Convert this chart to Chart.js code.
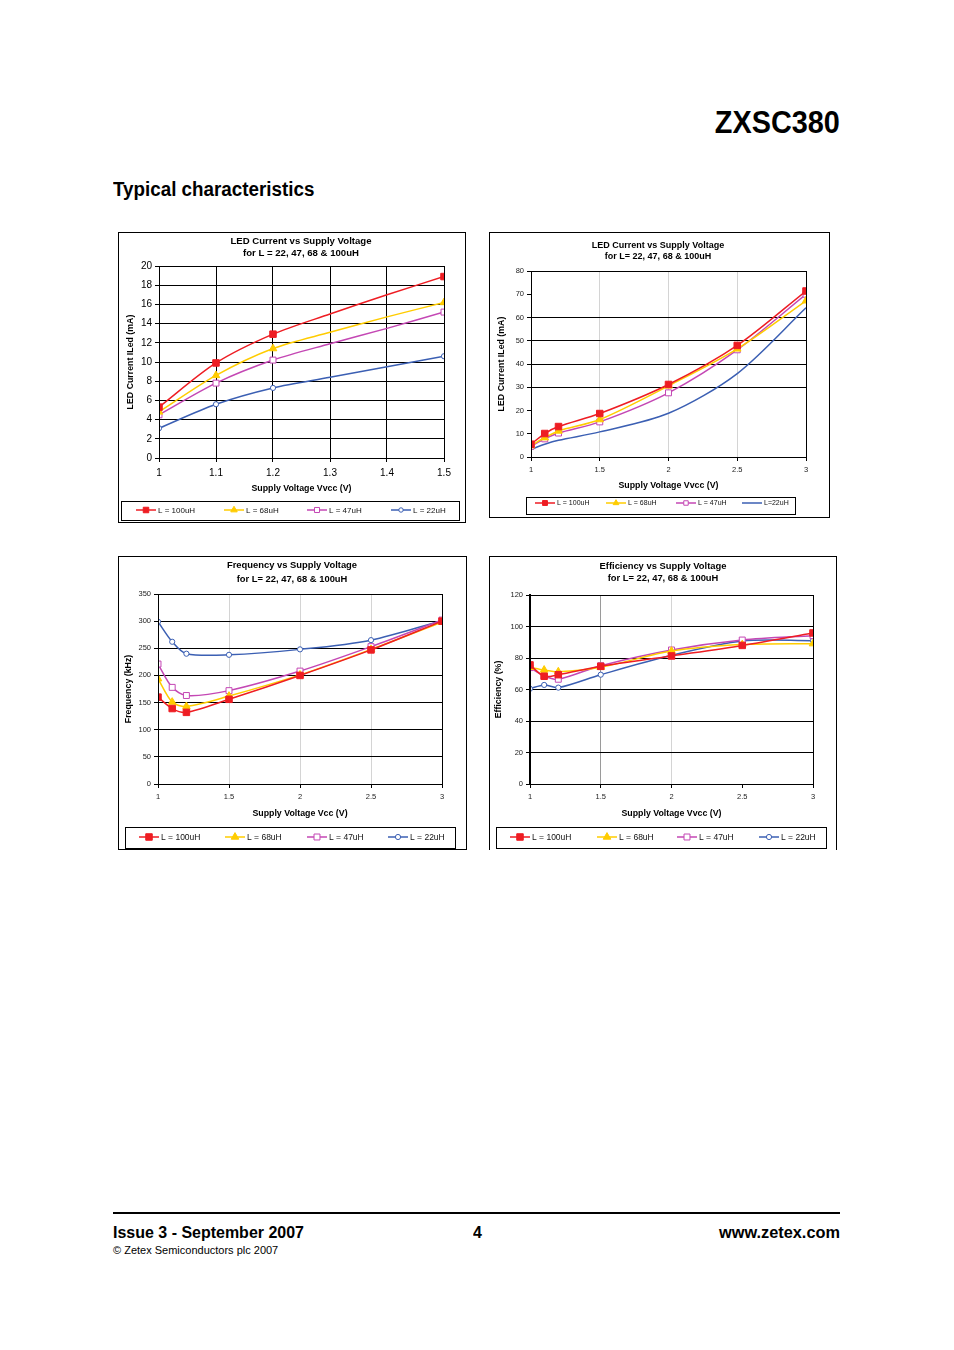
<!DOCTYPE html>
<html>
<head>
<meta charset="utf-8">
<script src="https://cdn.jsdelivr.net/npm/chart.js@4.4.0/dist/chart.umd.min.js"></script>
<style>
html, body { margin: 0; padding: 0; background: #fff; }
#page { position: relative; width: 954px; height: 1350px; overflow: hidden; background: #fff;
        font-family: "Liberation Sans", Arial, sans-serif; color: #000; }
.t { position: absolute; white-space: nowrap; line-height: 1; font-weight: bold; transform-origin: 0 0; }
.r { transform-origin: 100% 0; }
.box { position: absolute; border: 1px solid #000; box-sizing: border-box; }
.box canvas { position: absolute; left: 0; top: 0; }
#rule { position: absolute; left: 113px; top: 1212px; width: 727px; height: 2px; background: #000; }
</style>
</head>
<body>
<div id="page">
  <div class="t r" style="right:114px; top:106px; font-size:32px; transform:scaleX(0.9);">ZXSC380</div>
  <div class="t" style="left:113px; top:179px; font-size:20px; transform:scaleX(0.94);">Typical characteristics</div>

  <div class="box" style="left:118px; top:232px; width:348px; height:291px;"><canvas id="c1" width="346" height="289"></canvas></div>
  <div class="box" style="left:489px; top:232px; width:341px; height:286px;"><canvas id="c2" width="339" height="284"></canvas></div>
  <div class="box" style="left:118px; top:556px; width:349px; height:294px;"><canvas id="c3" width="347" height="292"></canvas></div>
  <div class="box" style="left:489px; top:556px; width:348px; height:294px; border-bottom:none;"><canvas id="c4" width="346" height="293"></canvas></div>

  <div id="rule"></div>
  <div class="t" style="left:113px; top:1224px; font-size:17px; transform:scaleX(0.94);">Issue 3 - September 2007</div>
  <div class="t" style="left:473px; top:1224px; font-size:17px; transform:scaleX(0.94);">4</div>
  <div class="t r" style="right:114px; top:1224px; font-size:17px; transform:scaleX(0.96);">www.zetex.com</div>
  <div class="t" style="left:113px; top:1245px; font-size:11px; font-weight:normal;">© Zetex Semiconductors plc 2007</div>
</div>

<script>
// ---- data ----
// LED current, low supply range (1 - 1.5 V)
const vLow = [1, 1.1, 1.2, 1.3, 1.4, 1.5];
const markLow = [1, 1, 1, 0, 0, 1];           // points that carry a marker
const iLedLow100 = [5.3, 9.9, 12.9, 15.0, 17.0, 18.9];
const iLedLow68 = [4.8, 8.6, 11.4, 13.1, 14.7, 16.2];
const iLedLow47 = [4.5, 7.8, 10.2, 11.9, 13.5, 15.2];
const iLedLow22 = [3.1, 5.6, 7.3, 8.4, 9.5, 10.6];

// full supply range (1 - 3 V)
const vFull = [1, 1.1, 1.2, 1.5, 2, 2.5, 3];
const iLed100 = [5.5, 10.1, 13.1, 18.7, 31.2, 48.0, 71.4];
const iLed68 = [4.9, 8.3, 11.2, 16.1, 30.6, 46.5, 67.2];
const iLed47 = [4.6, 7.8, 10.3, 15.1, 27.6, 46.1, 70.0];
const iLed22 = [3.3, 5.5, 7.2, 10.8, 18.8, 35.9, 64.2];

const freq100 = [160, 139, 132, 156, 200, 247, 300];
const freq68 = [194, 151, 143, 162, 201, 248, 298];
const freq47 = [221, 178, 163, 172, 208, 253, 302];
const freq22 = [299, 262, 240, 238, 248, 265, 301];

const eff100 = [75.6, 68.4, 69.4, 74.7, 81.3, 88.0, 95.9];
const eff68 = [74.1, 72.4, 71.3, 74.1, 84.4, 88.5, 89.1];
const eff47 = [73.9, 68.6, 66.5, 75.1, 85.1, 91.4, 94.2];
const eff22 = [60.5, 62.9, 61.2, 69.4, 81.7, 90.8, 91.0];

// tick labels
const xTicksLow = [1, 1.1, 1.2, 1.3, 1.4, 1.5];
const xTicksFull = [1, 1.5, 2, 2.5, 3];
const yTicksLow = [0, 2, 4, 6, 8, 10, 12, 14, 16, 18, 20];
const yTicksLed = [0, 10, 20, 30, 40, 50, 60, 70, 80];
const yTicksFreq = [0, 50, 100, 150, 200, 250, 300, 350];
const yTicksEff = [0, 20, 40, 60, 80, 100, 120];

const seriesLabels = ['L = 100uH', 'L = 68uH', 'L = 47uH', 'L = 22uH'];
const seriesLabelsC2 = ['L = 100uH', 'L = 68uH', 'L = 47uH', 'L=22uH'];

// ---- styling ----
const FONT = '"Liberation Sans", Arial, sans-serif';
const COLORS = ['#ee1d23', '#ffcc00', '#c447b4', '#3b5fb3'];
const MARKERS = ['rect', 'triangle', 'rect', 'circle'];
const FILLED = [true, true, false, false];
const RADIUS = [4.6, 4.4, 4.2, 2.6];
const NONE = 'rgba(0,0,0,0)';

function datasets(xs, series, labels, mask, noMarker) {
  return series.map((ys, i) => ({
    label: labels[i],
    data: ys.map((y, j) => ({ x: xs[j], y: y })),
    borderColor: COLORS[i],
    backgroundColor: FILLED[i] ? COLORS[i] : '#fff',
    borderWidth: 1.5,
    pointStyle: MARKERS[i],
    pointRadius: ys.map((_, j) => (noMarker && noMarker[i]) || (mask && !mask[j]) ? 0 : RADIUS[i]),
    pointBorderColor: COLORS[i],
    pointBackgroundColor: FILLED[i] ? COLORS[i] : '#fff',
    pointBorderWidth: 1,
    tension: 0.3,
    showMarkerInLegend: !(noMarker && noMarker[i])
  }));
}

const panelPlugin = {
  id: 'panel',
  afterDraw(chart, args, o) {
    const ctx = chart.ctx, a = chart.chartArea;
    ctx.save();
    ctx.strokeStyle = '#000';
    ctx.lineWidth = 1;
    ctx.strokeRect(Math.round(a.left) + 0.5, Math.round(a.top) + 0.5,
                   Math.round(a.right - a.left), Math.round(a.bottom - a.top));
    // chart title
    ctx.fillStyle = '#000';
    ctx.textAlign = 'center';
    ctx.textBaseline = 'middle';
    ctx.font = 'bold ' + o.titleSize + 'px ' + FONT;
    o.title.forEach((t, i) => ctx.fillText(t, o.titleX, o.titleY[i]));
    // legend
    const L = o.legend;
    ctx.strokeStyle = '#000';
    ctx.strokeRect(L.box[0] + 0.5, L.box[1] + 0.5, L.box[2], L.box[3]);
    ctx.font = L.size + 'px ' + FONT;
    ctx.textAlign = 'left';
    chart.data.datasets.forEach((ds, i) => {
      const x = L.xs[i], y = L.y;
      ctx.strokeStyle = ds.borderColor;
      ctx.lineWidth = 1.5;
      ctx.beginPath();
      ctx.moveTo(x, y);
      ctx.lineTo(x + 20, y);
      ctx.stroke();
      if (ds.showMarkerInLegend) {
        ctx.lineWidth = 1;
        ctx.fillStyle = ds.backgroundColor;
        Chart.helpers.drawPoint(ctx, { pointStyle: ds.pointStyle, radius: RADIUS[i] * L.r, borderWidth: 1, rotation: 0 }, x + 10, y);
      }
      ctx.fillStyle = '#111';
      ctx.fillText(ds.label, x + 22, y + 0.5);
    });
    ctx.restore();
  }
};

function scales(o) {
  return {
    x: {
      type: 'linear',
      min: o.xTicks[0], max: o.xTicks[o.xTicks.length - 1],
      afterBuildTicks: s => { s.ticks = o.xTicks.map(v => ({ value: v })); },
      afterFit: s => { s.height = o.xH; },
      grid: { color: c => o.xGrid(c.tick ? c.tick.value : null), tickColor: '#000', tickLength: 4, lineWidth: 1 },
      border: { color: '#000', width: 1 },
      ticks: { color: o.tickColor, font: { family: FONT, size: o.tickSize }, padding: o.xPad,
               maxRotation: 0, autoSkip: false, callback: v => String(v) },
      title: { display: true, text: o.xTitle, color: '#000',
               font: { family: FONT, size: o.axisSize, weight: 'bold' }, padding: { top: 0, bottom: o.xTitlePad } }
    },
    y: {
      type: 'linear',
      min: o.yTicks[0], max: o.yTicks[o.yTicks.length - 1],
      afterBuildTicks: s => { s.ticks = o.yTicks.map(v => ({ value: v })); },
      afterFit: s => { s.width = o.yW; },
      grid: { color: c => o.yGrid(c.tick ? c.tick.value : null), tickColor: '#000', tickLength: 4, lineWidth: 1 },
      border: { color: '#000', width: o.yBorder || 1 },
      ticks: { color: o.tickColor, font: { family: FONT, size: o.tickSize }, padding: 3,
               autoSkip: false, callback: v => String(v) },
      title: { display: true, text: o.yTitle, color: '#000',
               font: { family: FONT, size: o.axisSize, weight: 'bold' }, padding: { top: o.yTitlePad, bottom: 0 } }
    }
  };
}

function makeChart(id, data, o) {
  const cv = document.getElementById(id);
  new Chart(cv, {
    type: 'line',
    data: { datasets: data },
    options: {
      responsive: false,
      animation: false,
      devicePixelRatio: 1,
      layout: { padding: { left: 0, top: o.T, right: cv.width - o.R, bottom: cv.height - o.B - o.xH } },
      scales: scales(o),
      plugins: { legend: { display: false }, tooltip: { enabled: false }, title: { display: false }, panel: o.panel }
    },
    plugins: [panelPlugin]
  });
}

Chart.defaults.font.family = FONT;

// 1. LED current, 1 - 1.5 V
makeChart('c1', datasets(vLow, [iLedLow100, iLedLow68, iLedLow47, iLedLow22], seriesLabels, markLow), {
  T: 33, R: 325, B: 225, xH: 40, yW: 40,
  xTicks: xTicksLow, yTicks: yTicksLow,
  xGrid: () => '#000', yGrid: () => '#000',
  tickSize: 10, tickColor: '#000', axisSize: 8.8, xPad: 5, xTitlePad: 4.6, yTitlePad: 6.6,
  xTitle: 'Supply Voltage Vvcc (V)', yTitle: 'LED Current ILed (mA)',
  panel: {
    title: ['LED Current vs Supply Voltage', 'for L = 22, 47, 68 & 100uH'], titleX: 182, titleY: [8, 20], titleSize: 9.6,
    legend: { box: [2, 268, 338, 19], y: 277, xs: [17, 105, 188, 272], size: 8, r: 0.85 }
  }
});

// 2. LED current, 1 - 3 V
makeChart('c2', datasets(vFull, [iLed100, iLed68, iLed47, iLed22], seriesLabelsC2, null, [0, 0, 0, 1]), {
  T: 38, R: 316, B: 224, xH: 36, yW: 41,
  xTicks: xTicksFull, yTicks: yTicksLed,
  xGrid: v => (v === 1.5 || v === 2 || v === 2.5) ? '#d4d4d4' : NONE,
  yGrid: v => (v >= 30 && v <= 60) ? '#000' : NONE,
  tickSize: 7.5, tickColor: '#222', axisSize: 8.8, xPad: 4, xTitlePad: 2.3, yTitlePad: 5.9,
  xTitle: 'Supply Voltage Vvcc (V)', yTitle: 'LED Current ILed (mA)',
  panel: {
    title: ['LED Current vs Supply Voltage', 'for L= 22, 47, 68 & 100uH'], titleX: 168, titleY: [13, 24], titleSize: 9,
    legend: { box: [36, 264, 269, 17], y: 270, xs: [45, 116, 186, 252], size: 7, r: 0.75 }
  }
});

// 3. Frequency
makeChart('c3', datasets(vFull, [freq100, freq68, freq47, freq22], seriesLabels), {
  T: 37, R: 323, B: 227, xH: 36, yW: 39,
  xTicks: xTicksFull, yTicks: yTicksFreq,
  xGrid: v => (v === 1.5 || v === 2 || v === 2.5) ? '#d4d4d4' : NONE,
  yGrid: v => (v > 0) ? '#000' : NONE,
  tickSize: 7.5, tickColor: '#222', axisSize: 8.8, xPad: 4, xTitlePad: 1.6, yTitlePad: 4.3,
  xTitle: 'Supply Voltage Vcc (V)', yTitle: 'Frequency (kHz)',
  panel: {
    title: ['Frequency vs Supply Voltage', 'for L= 22, 47, 68 & 100uH'], titleX: 173, titleY: [8, 22], titleSize: 9.4,
    legend: { box: [6, 270, 330, 21], y: 280, xs: [20, 106, 188, 269], size: 8.5, r: 1 }
  }
});

// 4. Efficiency
makeChart('c4', datasets(vFull, [eff100, eff68, eff47, eff22], seriesLabels), {
  T: 38, R: 323, B: 227, xH: 36, yW: 40, yBorder: 2,
  xTicks: xTicksFull, yTicks: yTicksEff,
  xGrid: v => v === 1.5 ? '#9a9a9a' : (v === 2 ? '#d4d4d4' : NONE),
  yGrid: v => (v > 0) ? '#000' : NONE,
  tickSize: 7.5, tickColor: '#222', axisSize: 8.8, xPad: 4, xTitlePad: 0.8, yTitlePad: 3.6,
  xTitle: 'Supply Voltage Vvcc (V)', yTitle: 'Efficiency (%)',
  panel: {
    title: ['Efficiency vs Supply Voltage', 'for L= 22, 47, 68 & 100uH'], titleX: 173, titleY: [9, 21], titleSize: 9.4,
    legend: { box: [6, 270, 330, 21], y: 280, xs: [20, 107, 187, 269], size: 8.5, r: 1 }
  }
});
</script>
</body>
</html>
